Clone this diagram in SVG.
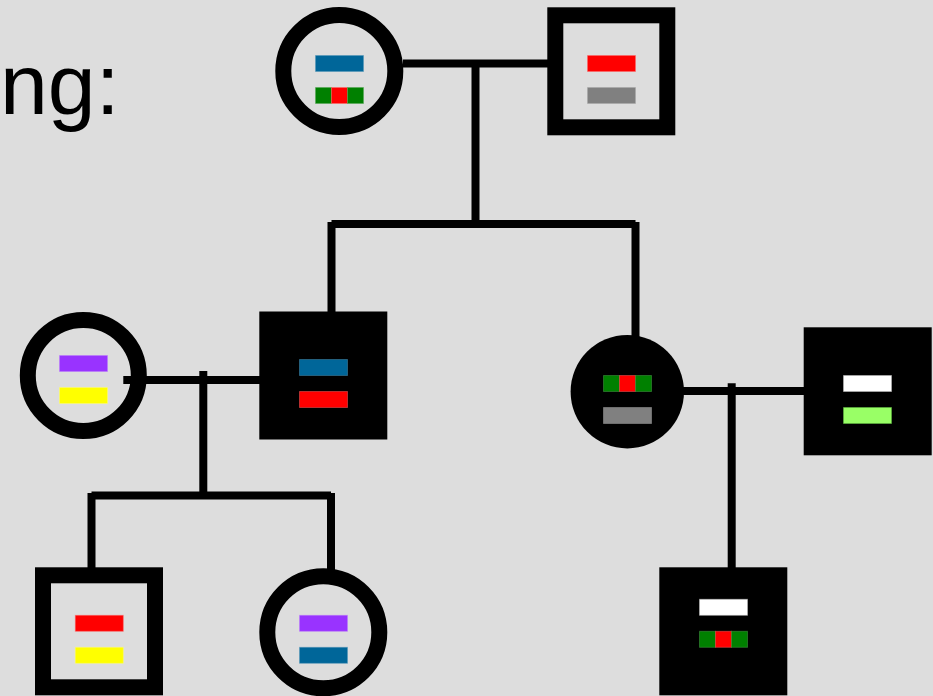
<svg xmlns="http://www.w3.org/2000/svg" width="933" height="696" viewBox="0 0 933 696">
  <style>
    .ring { fill: none; stroke: #000; stroke-width: 16; }
    .solid { fill: #000; }
    .link { fill: none; stroke: #000; stroke-width: 8; stroke-linecap: butt; }
    .bar { stroke-width: 1; stroke-opacity: 0.45; }
    .blue { fill: #006699; stroke: #4d94b8; }
    .red { fill: #ff0000; stroke: #ff6666; }
    .green { fill: #008000; stroke: #4da64d; }
    .grey { fill: #808080; stroke: #a6a6a6; }
    .purple { fill: #9933ff; stroke: #bb77ff; }
    .yellow { fill: #ffff00; stroke: #ffff77; }
    .white { fill: #ffffff; stroke: #cccccc; }
    .lime { fill: #99ff66; stroke: #66cc44; }
    .label { font-family: "Liberation Sans", Arial, sans-serif; font-size: 86px; fill: #000; }
  </style>
  <defs>
    <!-- striped allele: green / red / green -->
    <g id="grg">
      <rect class="bar green" x="0" y="0" width="16" height="16"/>
      <rect class="bar red" x="16" y="0" width="16" height="16"/>
      <rect class="bar green" x="32" y="0" width="16" height="16"/>
    </g>
  </defs>

  <rect x="0" y="0" width="933" height="696" fill="#dddddd"/>

  <text class="label" x="0" y="114">ng:</text>

  <g id="connectors">
    <!-- generation I -->
    <line class="link" x1="403" y1="63.5" x2="548" y2="63.5"/>
    <line class="link" x1="475.5" y1="63.5" x2="475.5" y2="224"/>
    <line class="link" x1="331.5" y1="224" x2="635.5" y2="224"/>
    <line class="link" x1="331.5" y1="222" x2="331.5" y2="312"/>
    <line class="link" x1="635.5" y1="222" x2="635.5" y2="338"/>
    <!-- generation II, left couple -->
    <line class="link" x1="123.3" y1="380" x2="260" y2="380"/>
    <line class="link" x1="203.3" y1="371" x2="203.3" y2="495.5"/>
    <line class="link" x1="91.5" y1="495.5" x2="331" y2="495.5"/>
    <line class="link" x1="91.5" y1="493" x2="91.5" y2="568"/>
    <line class="link" x1="331" y1="493" x2="331" y2="570"/>
    <!-- generation II, right couple -->
    <line class="link" x1="683" y1="391" x2="804" y2="391"/>
    <line class="link" x1="731.7" y1="383.3" x2="731.7" y2="568"/>
  </g>

  <g id="I-1">
    <circle class="ring" cx="339.3" cy="71" r="56"/>
    <rect class="bar blue" x="315.5" y="55.5" width="48" height="16"/>
    <use href="#grg" x="315.5" y="87.5"/>
  </g>

  <g id="I-2">
    <rect class="ring" x="555.3" y="15.3" width="112" height="112"/>
    <rect class="bar red" x="587.5" y="55.5" width="48" height="16"/>
    <rect class="bar grey" x="587.5" y="87.5" width="48" height="16"/>
  </g>

  <g id="II-1">
    <circle class="ring" cx="83.3" cy="375.5" r="55.5"/>
    <rect class="bar purple" x="59.5" y="355.5" width="48" height="16"/>
    <rect class="bar yellow" x="59.5" y="387.5" width="48" height="16"/>
  </g>

  <g id="II-2">
    <rect class="solid" x="259.3" y="311.5" width="128" height="128"/>
    <rect class="bar blue" x="299.5" y="359.5" width="48" height="16"/>
    <rect class="bar red" x="299.5" y="391.5" width="48" height="16"/>
  </g>

  <g id="II-3">
    <circle class="solid" cx="627.3" cy="391.7" r="56.7"/>
    <use href="#grg" x="603.5" y="375.5"/>
    <rect class="bar grey" x="603.5" y="407.5" width="48" height="16"/>
  </g>

  <g id="II-4">
    <rect class="solid" x="803.7" y="327.3" width="128" height="128"/>
    <rect class="bar white" x="843.5" y="375.5" width="48" height="16"/>
    <rect class="bar lime" x="843.5" y="407.5" width="48" height="16"/>
  </g>

  <g id="III-1">
    <rect class="ring" x="43" y="575.3" width="112" height="112"/>
    <rect class="bar red" x="75.3" y="615.3" width="48" height="16"/>
    <rect class="bar yellow" x="75.3" y="647.3" width="48" height="16"/>
  </g>

  <g id="III-2">
    <circle class="ring" cx="323.3" cy="632.3" r="56"/>
    <rect class="bar purple" x="299.5" y="615.3" width="48" height="16"/>
    <rect class="bar blue" x="299.5" y="647.3" width="48" height="16"/>
  </g>

  <g id="III-3">
    <rect class="solid" x="659.3" y="567.3" width="128" height="128"/>
    <rect class="bar white" x="699.5" y="599.3" width="48" height="16"/>
    <use href="#grg" x="699.5" y="631.3"/>
  </g>
</svg>
